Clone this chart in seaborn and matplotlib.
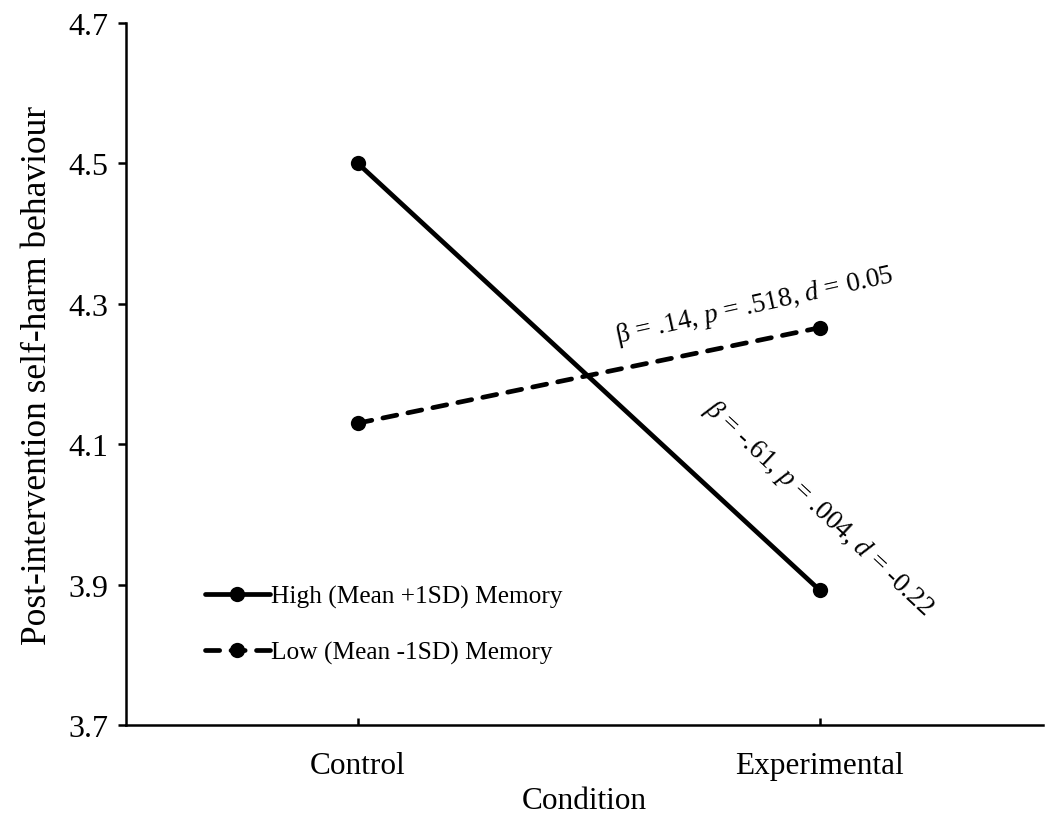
import matplotlib
matplotlib.use("Agg")
import matplotlib.pyplot as plt
import seaborn as sns
import pandas as pd

conditions = ["Control", "Experimental"]
high_memory = [4.50, 3.892]
low_memory = [4.130, 4.266]
series_labels = ["High (Mean +1SD) Memory", "Low (Mean -1SD) Memory"]
y_ticks = [3.7, 3.9, 4.1, 4.3, 4.5, 4.7]
annot_low = "β = .14, $p$ = .518, $d$ = 0.05"
annot_high = "$\\beta$ = -.61, $p$ = .004, $d$ = -0.22"

sns.set_theme(style="white")
plt.rcParams["font.family"] = ["Liberation Serif", "DejaVu Serif"]
plt.rcParams["mathtext.fontset"] = "custom"
plt.rcParams["mathtext.rm"] = "Liberation Serif"
plt.rcParams["mathtext.it"] = "Liberation Serif:italic"
plt.rcParams["text.color"] = "black"
plt.rcParams["axes.labelcolor"] = "black"

df = pd.DataFrame({
    "Condition": conditions * 2,
    "value": high_memory + low_memory,
    "series": [series_labels[0]] * 2 + [series_labels[1]] * 2,
})

fig = plt.figure(figsize=(10.46, 8.2), dpi=100)
ax = fig.add_axes([0.1205, 0.1146, 0.8765, 0.8561])

sns.lineplot(data=df[df.series == series_labels[0]], x="Condition", y="value",
             ax=ax, color="black", linewidth=3.4, marker="o", markersize=11,
             markeredgewidth=0, label=series_labels[0], sort=False)
sns.lineplot(data=df[df.series == series_labels[1]], x="Condition", y="value",
             ax=ax, color="black", linewidth=3.4, marker="o", markersize=11,
             markeredgewidth=0, label=series_labels[1], sort=False,
             linestyle=(0, (3.0, 2.4)))
for ln in ax.lines:
    ln.set_dash_capstyle("round")
    ln.set_solid_capstyle("round")

ax.set_xlim(-0.502, 1.483)
ax.set_ylim(3.7, 4.7)
ax.set_yticks(y_ticks)
ax.set_yticklabels([f"{t:.1f}" for t in y_ticks])
ax.set_xticks([0, 1])
ax.set_xticklabels(conditions)

for s in ["top", "right"]:
    ax.spines[s].set_visible(False)
for s in ["left", "bottom"]:
    ax.spines[s].set_linewidth(1.8)
    ax.spines[s].set_color("black")

ax.tick_params(axis="y", direction="out", length=6, width=1.8, labelsize=23,
               pad=7, left=True, colors="black")
ax.tick_params(axis="x", direction="in", length=5, width=1.8, labelsize=22.5,
               pad=19, bottom=True, colors="black")

ax.set_xlabel("Condition", fontsize=22.5, labelpad=4, color="black")
ax.set_ylabel("Post-intervention self-harm behaviour", fontsize=25.5,
              labelpad=10, color="black")

ax.text(0.86, 4.298, annot_low, fontsize=19.5, rotation=12.5, color="black",
        ha="center", va="center", transform=ax.transData)
ax.text(0.997, 4.01, annot_high, fontsize=19.5, rotation=-43, color="black",
        ha="center", va="center", transform=ax.transData)

leg = ax.legend(loc="lower left", bbox_to_anchor=(0.075, 0.072), frameon=False,
                fontsize=18.3, handlelength=2.55, handletextpad=0.05,
                labelspacing=1.3, borderaxespad=0, labelcolor="black")

fig.savefig("out.png", dpi=100)
